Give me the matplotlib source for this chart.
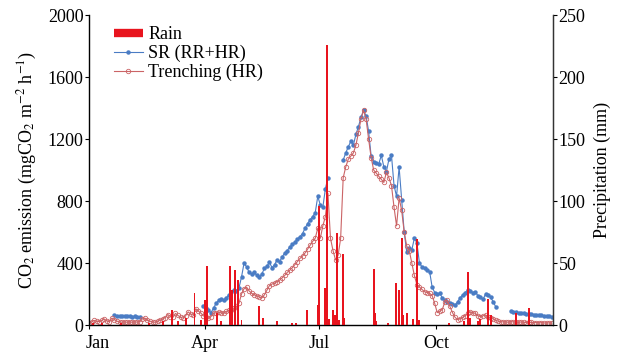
import numpy as np
import matplotlib
matplotlib.use('Agg')
import matplotlib.pyplot as plt
import matplotlib.transforms as mtransforms
from matplotlib.lines import Line2D

plt.rcParams['font.family'] = ['Liberation Serif', 'DejaVu Serif']
plt.rcParams['mathtext.fontset'] = 'stix'

# day of year for the trenching (HR) series
hr_days = list(range(0, 366, 2))
hr_vals = [15, 20, 30, 25, 22, 30, 38, 28, 20, 45, 35, 25, 20, 18, 20, 18, 20, 18, 20, 19,
           22, 40, 45, 30, 25, 20, 18, 25, 32, 40, 48, 68, 55, 50, 75, 62, 50, 45, 60, 85,
           70, 65, 105, 90, 78, 60, 50, 45, 55, 75, 80, 85, 78, 75, 88, 95, 100, 110, 120, 140,
           200, 235, 245, 220, 205, 195, 190, 180, 175, 195, 225, 255, 265, 270, 280, 290, 305, 320, 340, 355,
           370, 390, 410, 430, 445, 465, 490, 515, 540, 560, 625, 560, 640, 700, 850, 560, 480, 420, 450, 560,
           950, 1020, 1070, 1090, 1110, 1160, 1240, 1330, 1385, 1330, 1200, 1080, 1000, 980, 960, 940, 920, 985, 950, 900,
           760, 640, 820, 740, 600, 510, 480, 400, 320, 260, 245, 230, 215, 210, 205, 190, 140, 80, 90, 100,
           150, 160, 120, 80, 50, 35, 40, 50, 60, 75, 85, 80, 75, 60, 55, 60, 65, 55, 45, 40,
           32, 25, 22, 20, 20, 18, 22, 20, 18, 17, 20, 18, 16, 18, 17, 15, 16, 14, 15, 14,
           13, 14, 12]

# soil respiration (RR+HR), nan = no measurement
sr_days = [20, 22, 24, 26, 28, 30, 32, 34, 36, 38, 40, 41,
           88] + list(range(90, 189, 2)) + [190, 198] + list(range(200, 321, 2)) + [326] + list(range(332, 366, 2))
sr_vals = ([62, 60, 58, 58, 57, 58, 56, 55, 56, 54, 50, np.nan, np.nan,
            125, 110, 95, 80, 110, 140, 160, 165, 160, 175, 195, 215, 225, 220, 240,
            310, 400, 375, 340, 330, 340, 320, 310, 330, 365, 380, 405, 370, 390, 420,
            410, 440, 465, 480, 505, 520, 535, 555, 570, 590, 625, 655, 680, 700, 725,
            830, 775, 760, 880, 950, np.nan, np.nan,
            1065, 1110, 1150, 1185, 1160, 1230, 1280, 1340, 1385, 1350, 1250, 1090, 1055, 1045, 1040,
            1095, 1020, 990, 1070, 1095, 900, 830, 1020, 810, 600, 470, 500, 485, 560, 530,
            400, 375, 370, 355, 345, 245, 210, 200, 205, 175, 160, 150, 140, 135, 128,
            150, 175, 195, 210, 225, 220, 210, 212, 190, 180, 165, 200, 195, 180, 150, 118, np.nan,
            88, 85, 82, 80, 78, 76, 74, 72, 70, 68, 66, 64, 62, 60, 58, 56, 54])

rain_days = [3, 10, 25, 47, 58, 65, 70, 76, 83, 88, 91, 93, 101, 104, 111, 112.5, 115, 117, 120,
             134, 137, 148, 160, 163, 171.5, 180, 181, 185.5, 187, 189, 192, 193.5, 195, 197,
             200, 201, 224, 225, 226, 235, 241.5, 244, 246, 247, 250, 255, 258, 260, 283, 295,
             298, 300, 306, 308, 314, 316, 336, 346.5]
rain_mm = [2, 1.5, 2, 2, 3, 12, 3, 6, 26, 4, 20, 48, 10, 3, 48, 28, 44, 36, 4,
           15, 6, 3, 2, 2, 12, 16, 96, 30, 226, 5, 12, 8, 74, 4,
           57, 6, 45, 10, 3, 2, 34, 28, 70, 8, 10, 5, 69, 4, 2, 3,
           43, 6, 3, 5, 21, 8, 10, 14]

month_ticks = [0, 91, 181, 273]
month_labels = ['Jan', 'Apr', 'Jul', 'Oct']

blue = '#4A7CC4'
brick = '#CB6466'
rain_red = '#E8141E'

fig = plt.figure(figsize=(6.29, 3.58), dpi=100)
ax = fig.add_axes([0.1415, 0.092, 0.7375, 0.866])

ax.plot(sr_days, sr_vals, color=blue, lw=0.8, marker='o', ms=2.2, mec=blue, mfc=blue)
ax.plot(hr_days, hr_vals, color=brick, lw=0.8, marker='o', ms=3.2, mfc='none', mec=brick, mew=0.6)

ax.set_xlim(0, 365)
ax.set_ylim(0, 2000)
ax.set_yticks([0, 400, 800, 1200, 1600, 2000])
ax.set_xticks(month_ticks)
ax.set_xticklabels(month_labels)
ax.set_ylabel('CO$_2$ emission (mgCO$_2$ m$^{-2}$ h$^{-1}$)', fontsize=13, labelpad=6)
ax.tick_params(labelsize=13, length=3, width=0.8, pad=1)
ax.tick_params(axis='x', pad=4)
ax.spines['top'].set_visible(False)
for s in ['left', 'bottom', 'right']:
    ax.spines[s].set_linewidth(1.0)
    ax.spines[s].set_color('#333333')

# the Jan label sits a little right of its tick in the original
jan = ax.get_xticklabels()[0]
jan.set_transform(jan.get_transform() + mtransforms.ScaledTranslation(9 / 100, 0, fig.dpi_scale_trans))

ax2 = ax.twinx()
ax2.bar(rain_days, rain_mm, width=1.5, color=rain_red, linewidth=0)
ax2.set_ylim(0, 250)
ax2.set_yticks([0, 50, 100, 150, 200, 250])
ax2.set_ylabel('Precipitation (mm)', fontsize=13, labelpad=6)
ax2.tick_params(labelsize=13, length=3, width=0.8, pad=1)
ax2.spines['top'].set_visible(False)
ax2.spines['right'].set_color('#333333')

handles = [Line2D([], [], color=rain_red, lw=6, solid_capstyle='butt'),
           Line2D([], [], color=blue, lw=0.8, marker='o', ms=2.2),
           Line2D([], [], color=brick, lw=0.8, marker='o', ms=3.2, mfc='none', mew=0.6)]
labels = ['Rain', 'SR (RR+HR)', 'Trenching (HR)']
ax2.legend(handles, labels, loc='upper left', bbox_to_anchor=(0.03, 1.0), frameon=False,
           fontsize=13, handlelength=1.6, handletextpad=0.3, labelspacing=0.1, borderaxespad=0.2)

fig.savefig('out.png', dpi=100)
